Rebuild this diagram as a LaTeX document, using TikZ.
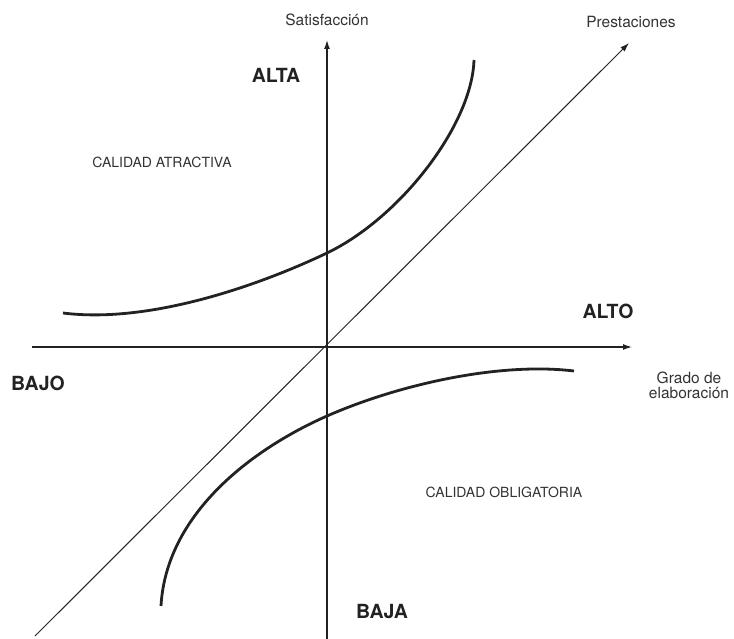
\documentclass[tikz,border=0pt]{standalone}
\usepackage{fontspec}
\setmainfont{TeX Gyre Heros}
\usetikzlibrary{arrows.meta}
\definecolor{ink}{HTML}{222222}
\definecolor{txt}{HTML}{333333}
\begin{document}
\begin{tikzpicture}[x=1pt,y=-1pt,
  axis/.style={draw=ink,line width=1.3pt,-{Latex[length=9pt,width=6pt]}},
  curve/.style={draw=ink,line width=2.8pt},
  lbl/.style={text=txt,font=\fontsize{15.5}{15}\selectfont,inner sep=0pt},
  big/.style={text=ink,font=\fontsize{19.5}{22}\selectfont\bfseries,inner sep=0pt},
  region/.style={text=txt,font=\fontsize{14}{16}\selectfont,inner sep=0pt}]
\useasboundingbox (0,0) rectangle (734,639);
\coordinate (O) at (327,347);
\coordinate (hs) at (32,347);
\coordinate (he) at (632,347);
\coordinate (vs) at (327,639);
\coordinate (ve) at (327,40);
\coordinate (ds) at (35,636);
\coordinate (de) at (629,43);
\draw[axis] (hs) -- (he);
\draw[axis] (vs) -- (ve);
\draw[axis,line width=1pt] (ds) -- (de);
% curves
\coordinate (a0) at (63,313);
\coordinate (a1) at (327,253);
\coordinate (a2) at (474,60);
\draw[curve] (a0) .. controls (150,324) and (260,285) .. (a1)
  .. controls (400,218) and (472,125) .. (a2);
\coordinate (b0) at (161,606);
\coordinate (b1) at (327,416);
\coordinate (b2) at (574,371);
\draw[curve] (b0) .. controls (166,515) and (250,450) .. (b1)
  .. controls (400,384) and (500,362) .. (b2);
% labels
\node[lbl] (sat) at (327,20) {Satisfacción};
\node[lbl] (pre) at (631,22) {Prestaciones};
\node[big] (alta) at (276,75) {ALTA};
\node[big] (alto) at (608,311) {ALTO};
\node[big] (bajo) at (38,383) {BAJO};
\node[big] (baja) at (382,612) {BAJA};
\node[region] (atr) at (162,162) {CALIDAD ATRACTIVA};
\node[region] (obl) at (504,492) {CALIDAD OBLIGATORIA};
\node[lbl,align=center] (gra) at (689,385) {Grado de\\elaboración};
\end{tikzpicture}
\end{document}
